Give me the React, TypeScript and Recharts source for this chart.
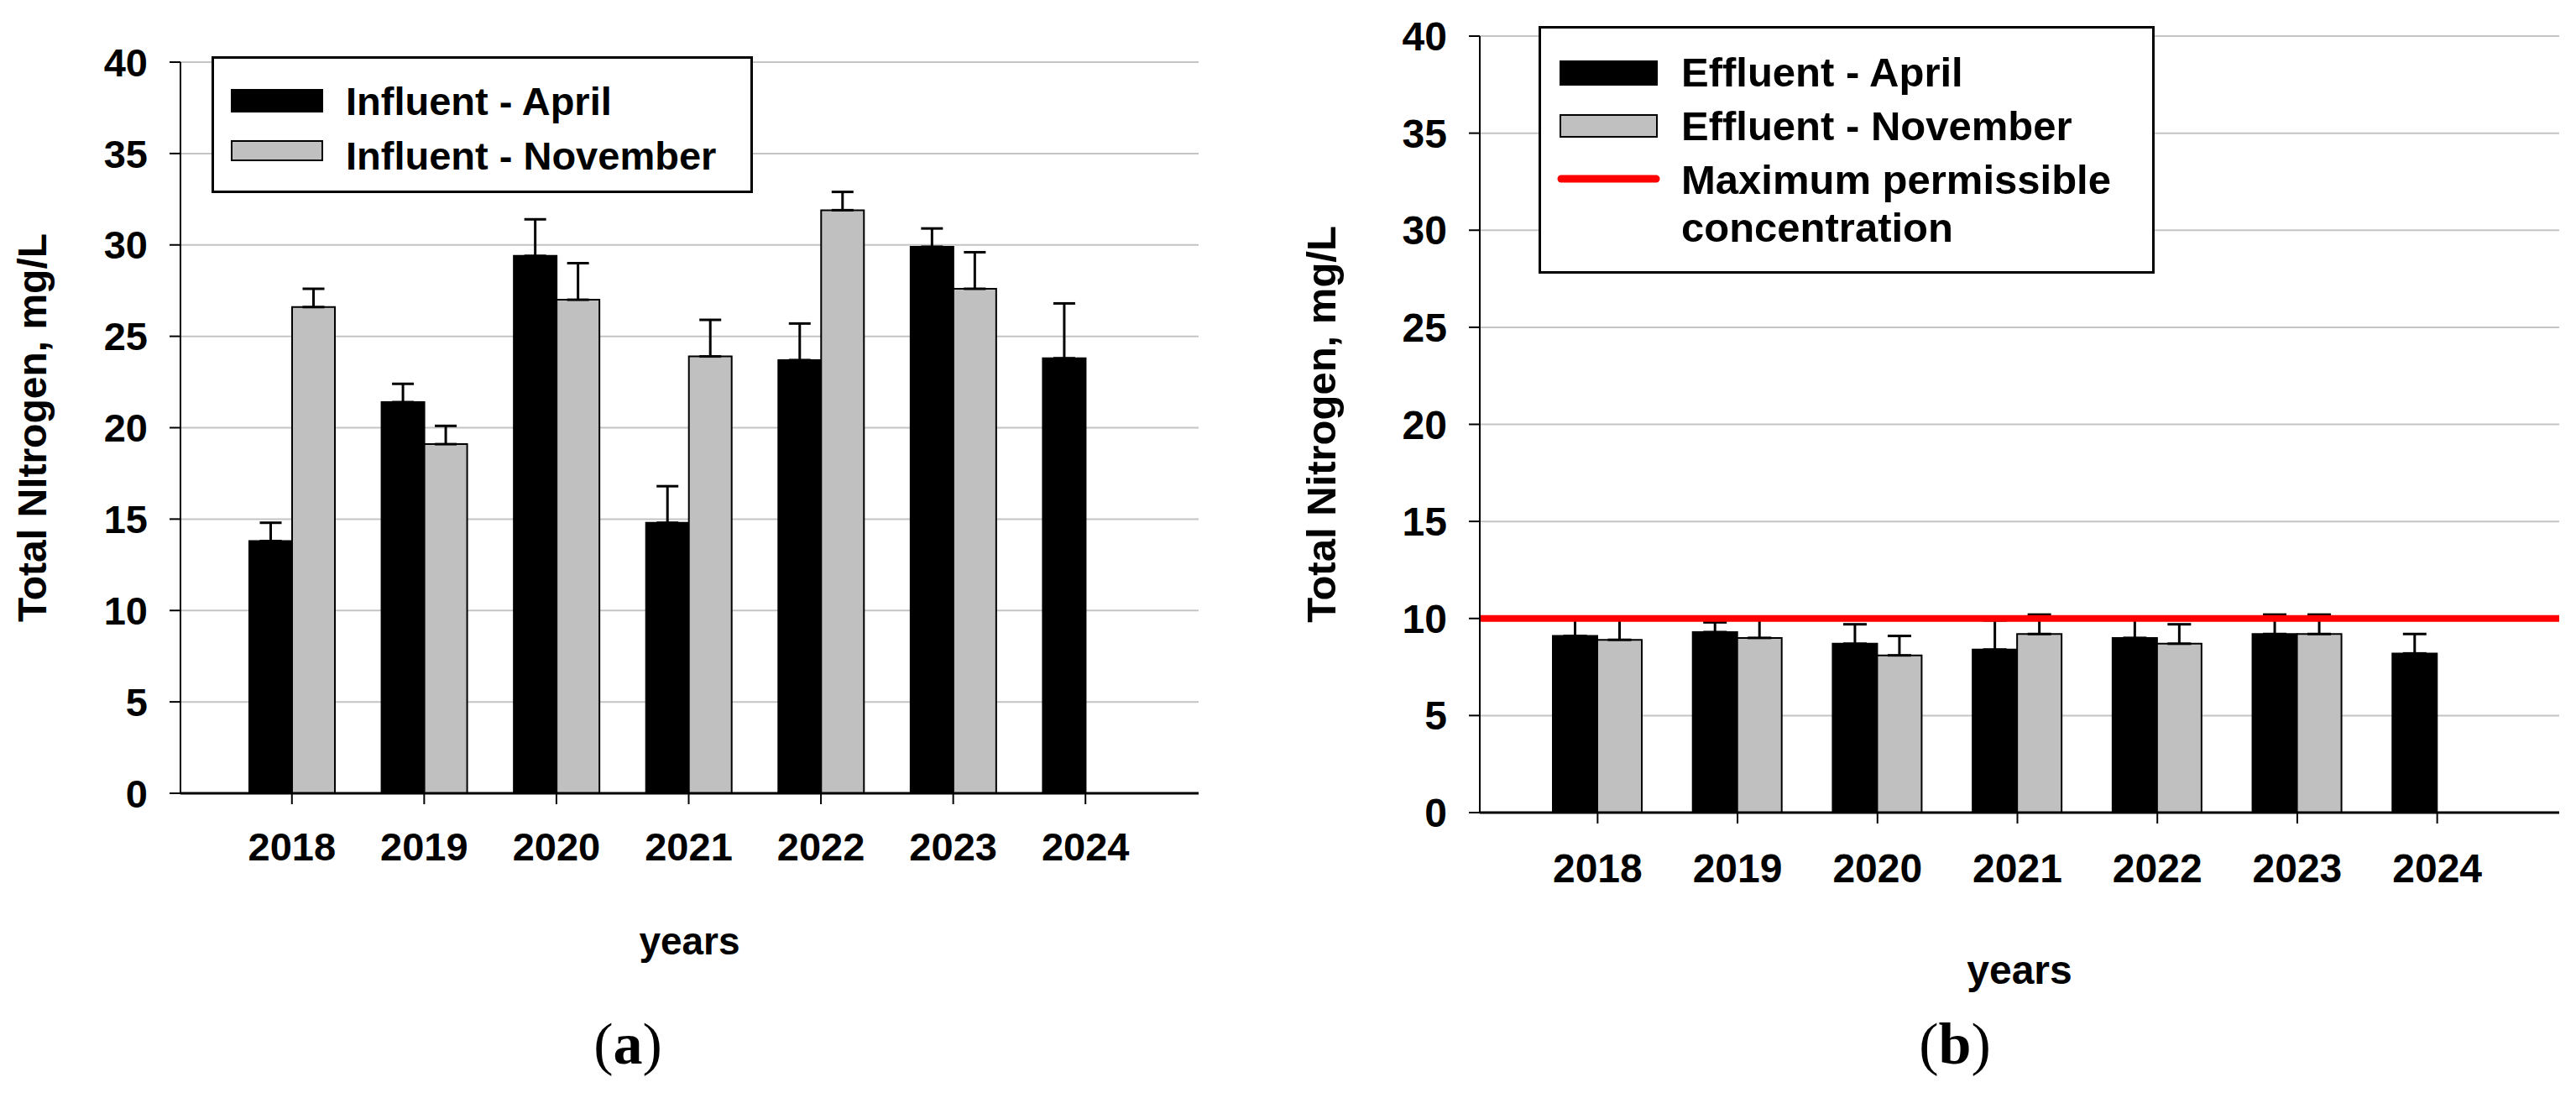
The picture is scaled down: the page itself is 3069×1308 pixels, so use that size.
import React from "react"
import {
  BarChart,
  Bar,
  XAxis,
  YAxis,
  CartesianGrid,
  ErrorBar,
  ReferenceLine,
  Legend,
} from "recharts"

const years = ["2018", "2019", "2020", "2021", "2022", "2023", "2024"]
const yTicks = [0, 5, 10, 15, 20, 25, 30, 35, 40]

// panel (a) influent
const influentApril = [13.8, 21.4, 29.4, 14.8, 23.7, 29.9, 23.8]
const influentAprilErr = [1.0, 1.0, 2.0, 2.0, 2.0, 1.0, 3.0]
const influentNovember = [26.6, 19.1, 27.0, 23.9, 31.9, 27.6, null]
const influentNovemberErr = [1.0, 1.0, 2.0, 2.0, 1.0, 2.0, null]

// panel (b) effluent
const effluentApril = [9.1, 9.3, 8.7, 8.4, 9.0, 9.2, 8.2]
const effluentAprilErr = [0.9, 0.5, 1.0, 1.5, 1.0, 1.0, 1.0]
const effluentNovember = [8.9, 9.0, 8.1, 9.2, 8.7, 9.2, null]
const effluentNovemberErr = [1.1, 1.0, 1.0, 1.0, 1.0, 1.0, null]
const maxPermissible = 10

const FONT = "'Liberation Sans', Arial, sans-serif"
const GREY = "#c0c0c0"

function buildRows(april: (number | null)[], aprilErr: (number | null)[], nov: (number | null)[], novErr: (number | null)[]) {
  return years.map((year, i) => ({
    year,
    april: april[i],
    aprilErr: aprilErr[i] == null ? null : [0, aprilErr[i]],
    november: nov[i],
    novemberErr: novErr[i] == null ? null : [0, novErr[i]],
  }))
}

const influentData = buildRows(influentApril, influentAprilErr, influentNovember, influentNovemberErr)
const effluentData = buildRows(effluentApril, effluentAprilErr, effluentNovember, effluentNovemberErr)

function InfluentLegend() {
  const textStyle = { fontFamily: FONT, fontWeight: 700, fontSize: 47 }
  return (
    <svg width={645} height={163} style={{ display: "block" }}>
      <rect x={1.5} y={1.5} width={642} height={160} fill="#fff" stroke="#000" strokeWidth={3} />
      <rect x={24} y={40} width={108} height={26} fill="#000" stroke="#000" strokeWidth={2} />
      <rect x={24} y={101} width={108} height={23} fill={GREY} stroke="#000" strokeWidth={2} />
      <text x={160} y={70} style={textStyle}>Influent - April</text>
      <text x={160} y={135} style={textStyle}>Influent - November</text>
    </svg>
  )
}

function EffluentLegend() {
  const textStyle = { fontFamily: FONT, fontWeight: 700, fontSize: 49 }
  return (
    <svg width={734} height={295} style={{ display: "block" }}>
      <rect x={1.5} y={1.5} width={731} height={292} fill="#fff" stroke="#000" strokeWidth={3} />
      <rect x={26} y={42} width={115} height={28} fill="#000" stroke="#000" strokeWidth={2} />
      <rect x={26} y={106} width={115} height={26} fill={GREY} stroke="#000" strokeWidth={2} />
      <line x1={27} y1={182} x2={140} y2={182} stroke="#ff0000" strokeWidth={9} strokeLinecap="round" />
      <text x={170} y={72} style={textStyle}>Effluent - April</text>
      <text x={170} y={136} style={textStyle}>Effluent - November</text>
      <text x={170} y={200} style={textStyle}>Maximum permissible</text>
      <text x={170} y={257} style={textStyle}>concentration</text>
    </svg>
  )
}

interface PanelProps {
  data: ReturnType<typeof buildRows>
  width: number
  height: number
  margin: { top: number; right: number; bottom: number; left: number }
  yAxisWidth: number
  xAxisHeight: number
  padding: { left: number; right: number }
  barSize: number
  capWidth: number
  tickFont: number
  tickMarginX: number
  yTitle: string
  yTitleOffset: number
  yTitleFont: number
  xTitleOffset: number
  xTitleFont: number
  legend: React.ReactElement
  legendBox: { left: number; top: number; width: number; height: number }
  refLine?: number
}

function Panel(p: PanelProps) {
  const tick = { fill: "#000", fontSize: p.tickFont, fontWeight: 700, fontFamily: FONT }
  return (
    <BarChart width={p.width} height={p.height} data={p.data} margin={p.margin} barGap={0}>
      <CartesianGrid vertical={false} stroke="#c4c4c4" strokeWidth={2} />
      <XAxis
        dataKey="year"
        height={p.xAxisHeight}
        padding={p.padding}
        tick={tick}
        tickSize={13}
        tickMargin={p.tickMarginX}
        interval={0}
        axisLine={{ stroke: "#000", strokeWidth: 3 }}
        tickLine={{ stroke: "#000", strokeWidth: 2 }}
        label={{
          value: "years",
          position: "insideBottom",
          offset: p.xTitleOffset,
          style: { fill: "#000", fontSize: p.xTitleFont, fontWeight: 700, fontFamily: FONT },
        }}
      />
      <XAxis
        xAxisId="top"
        orientation="top"
        dataKey="year"
        height={0}
        tick={false}
        tickLine={false}
        axisLine={{ stroke: "#000", strokeWidth: 2 }}
      />
      <YAxis
        domain={[0, 40]}
        ticks={yTicks}
        width={p.yAxisWidth}
        tick={tick}
        tickSize={13}
        tickMargin={26}
        interval={0}
        axisLine={{ stroke: "#000", strokeWidth: 2 }}
        tickLine={{ stroke: "#000", strokeWidth: 2 }}
        label={{
          value: p.yTitle,
          angle: -90,
          position: "insideLeft",
          offset: p.yTitleOffset,
          style: { textAnchor: "middle", fill: "#000", fontSize: p.yTitleFont, fontWeight: 700, fontFamily: FONT },
        }}
      />
      <YAxis
        yAxisId="right"
        orientation="right"
        domain={[0, 40]}
        width={0}
        tick={false}
        tickLine={false}
        axisLine={{ stroke: "#000", strokeWidth: 2 }}
      />
      <Legend
        layout="vertical"
        align="center"
        verticalAlign="middle"
        content={() => p.legend}
        wrapperStyle={p.legendBox}
      />
      <Bar dataKey="april" fill="#000" stroke="#000" strokeWidth={2} barSize={p.barSize} isAnimationActive={false}>
        <ErrorBar dataKey="aprilErr" direction="y" width={p.capWidth} stroke="#000" strokeWidth={3} isAnimationActive={false} />
      </Bar>
      <Bar dataKey="november" fill={GREY} stroke="#000" strokeWidth={2} barSize={p.barSize} isAnimationActive={false}>
        <ErrorBar dataKey="novemberErr" direction="y" width={p.capWidth} stroke="#000" strokeWidth={3} isAnimationActive={false} />
      </Bar>
      {p.refLine != null && (
        <ReferenceLine y={p.refLine} stroke="#ff0000" strokeWidth={8} ifOverflow="visible" />
      )}
    </BarChart>
  )
}

export default function App() {
  return (
    <div style={{ position: "absolute", left: 0, top: 0, width: 3069, height: 1308, background: "#fff" }}>
      <div style={{ position: "absolute", left: 0, top: 0 }}>
        <Panel
          data={influentData}
          width={1500}
          height={1308}
          margin={{ top: 74, right: 72, bottom: 163, left: 0 }}
          yAxisWidth={215}
          xAxisHeight={200}
          padding={{ left: 54, right: 56 }}
          barSize={51}
          capWidth={13}
          tickFont={47}
          tickMarginX={34}
          yTitle="Total NItrogen, mg/L"
          yTitleOffset={38}
          yTitleFont={48}
          xTitleOffset={8}
          xTitleFont={46}
          legend={<InfluentLegend />}
          legendBox={{ left: 252, top: 67, width: 645, height: 163 }}
        />
      </div>
      <div style={{ position: "absolute", left: 1530, top: 0 }}>
        <Panel
          data={effluentData}
          width={1539}
          height={1308}
          margin={{ top: 43, right: 20, bottom: 120, left: 0 }}
          yAxisWidth={233}
          xAxisHeight={220}
          padding={{ left: 57, right: 62 }}
          barSize={53}
          capWidth={14}
          tickFont={48}
          tickMarginX={36}
          yTitle="Total Nitrogen, mg/L"
          yTitleOffset={44}
          yTitleFont={49}
          xTitleOffset={16}
          xTitleFont={48}
          legend={<EffluentLegend />}
          legendBox={{ left: 303, top: 31, width: 734, height: 295 }}
          refLine={maxPermissible}
        />
      </div>
      <svg
        width={3069}
        height={1308}
        style={{ position: "absolute", left: 0, top: 0, pointerEvents: "none" }}
      >
        <text x={748} y={1267} textAnchor="middle" style={{ fontFamily: "'Liberation Serif', serif", fontSize: 70 }}>
          (<tspan fontWeight={700}>a</tspan>)
        </text>
        <text x={2329} y={1267} textAnchor="middle" style={{ fontFamily: "'Liberation Serif', serif", fontSize: 70 }}>
          (<tspan fontWeight={700}>b</tspan>)
        </text>
      </svg>
    </div>
  )
}
